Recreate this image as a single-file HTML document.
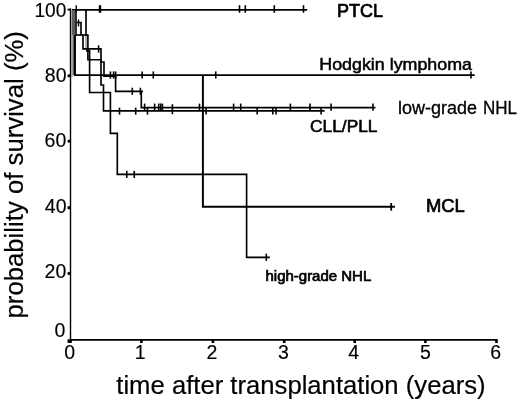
<!DOCTYPE html>
<html><head><meta charset="utf-8"><style>
html,body{margin:0;padding:0;background:#fff;width:520px;height:401px;overflow:hidden}
svg{display:block}
text{font-family:"Liberation Sans",Arial,sans-serif;fill:#000}
.tk{font-size:19.5px}
.ttl{font-size:26px}
.sm{stroke:#000;stroke-width:0.75px}
.lg{stroke:#000;stroke-width:0.7}
.tk{stroke:#000;stroke-width:0.15px}
.ttl{stroke:#000;stroke-width:0.2px}
</style></head><body>
<svg width="520" height="401" viewBox="0 0 520 401">
<g fill="none" stroke="#000" stroke-linecap="butt">
<path d="M70.5,8.5 L70.5,340.5" stroke-width="1.4"/>
<path d="M70,339.8 H497.5" stroke-width="1.7"/>
<path d="M69.6,339.7 V343" stroke-width="2.6"/>
<path d="M141.4,339.7 V343" stroke-width="2.6"/>
<path d="M212.9,339.7 V343" stroke-width="2.6"/>
<path d="M284.2,339.7 V343" stroke-width="2.6"/>
<path d="M354.7,339.7 V343" stroke-width="2.6"/>
<path d="M425.4,339.7 V343" stroke-width="2.6"/>
<path d="M496.5,339.7 V343" stroke-width="2.6"/>
<path d="M67.6,9.6 H71" stroke-width="1.9"/>
<path d="M67.6,75.8 H71" stroke-width="2.7"/>
<path d="M67.6,141.2 H71" stroke-width="2.8"/>
<path d="M67.6,207.7 H71" stroke-width="3.0"/>
<path d="M67.6,273.5 H71" stroke-width="2.8"/>
<rect x="67.5" y="339.4" width="4.4" height="3.4" fill="#000" stroke="none"/>
<path d="M72,9.8 H307.2" stroke-width="1.8"/>
<rect x="71.1" y="10" width="0.7" height="25" fill="#aaa" stroke="none"/>
<rect x="71.8" y="10" width="3.5" height="25" fill="#5e5e5e" stroke="none"/>
<rect x="71.1" y="35" width="1.6" height="42" fill="#a0a0a0" stroke="none"/>
<rect x="72.7" y="35" width="1.3" height="40" fill="#6a6a6a" stroke="none"/>
<path d="M74.9,35 V75.9" stroke-width="2.1"/>
<path d="M74,75 H474.7" stroke-width="1.75"/>
<path d="M76.0,10 V35.8" stroke-width="1.6"/>
<path d="M202.9,75 V206.8 H394.9" stroke-width="1.95"/>
<path d="M76.5,22.5 H81 V35" stroke-width="1.65"/>
<path d="M86,10 V35" stroke-width="1.65"/>
<path d="M86,35 V50" stroke="#888" stroke-width="1.3"/>
<path d="M76,35 H88.5" stroke-width="1.65"/>
<path d="M83,35 V48.8 H101 V85 H103.5 V110.8 H324.6" stroke-width="1.65"/>
<path d="M87.9,35 V59.7 H101 V62 H104 V76.2 H115.6" stroke-width="1.65"/>
<path d="M86,50.8 H89.6 V92.5 H110.4 V133.3 H117.3 V174.4 H246.6 V257.3 H269.8" stroke-width="1.65"/>
<path d="M115.6,75 V91.3 H143 M141.3,91.3 V107.6 H375.5" stroke-width="1.65"/>
<path d="M76.3,5.2 V12.8" stroke-width="1.4"/>
<path d="M100,5.2 V12.8" stroke-width="2.4"/>
<path d="M239.5,5.2 V12.8" stroke-width="1.6"/>
<path d="M245.3,5.2 V12.8" stroke-width="1.6"/>
<path d="M274.3,5.2 V12.8" stroke-width="1.6"/>
<path d="M303.5,5.2 V12.8" stroke-width="1.6"/>
<path d="M110.4,71.4 V78.6" stroke-width="1.6"/>
<path d="M113.6,71.4 V78.6" stroke-width="1.6"/>
<path d="M115.6,71.4 V78.6" stroke-width="1.6"/>
<path d="M142.2,71.4 V78.6" stroke-width="1.6"/>
<path d="M153.3,71.4 V78.6" stroke-width="1.6"/>
<path d="M215.75,71.4 V78.6" stroke-width="1.6"/>
<path d="M471,71.4 V78.6" stroke-width="1.6"/>
<path d="M391.2,203.0 V210.6" stroke-width="1.8"/>
<path d="M78.5,19.5 V26.5" stroke-width="1.4"/>
<path d="M98.6,45.4 V52.6" stroke-width="1.6"/>
<path d="M126.75,170.8 V178.0" stroke-width="1.6"/>
<path d="M134.25,170.8 V178.0" stroke-width="1.6"/>
<path d="M266.3,253.7 V260.9" stroke-width="1.6"/>
<path d="M132.3,87.7 V94.9" stroke-width="1.6"/>
<path d="M140.4,87.7 V94.9" stroke-width="1.6"/>
<path d="M144.6,103.6 V110.8" stroke-width="1.6"/>
<path d="M154.6,103.6 V110.8" stroke-width="1.6"/>
<path d="M158.8,103.6 V110.8" stroke-width="1.6"/>
<path d="M160.8,103.6 V110.8" stroke-width="1.6"/>
<path d="M162.4,103.6 V110.8" stroke-width="1.6"/>
<path d="M199.5,103.6 V110.8" stroke-width="1.6"/>
<path d="M233.6,103.6 V110.8" stroke-width="1.6"/>
<path d="M240.7,103.6 V110.8" stroke-width="1.6"/>
<path d="M290.4,103.6 V110.8" stroke-width="1.6"/>
<path d="M310,103.6 V110.8" stroke-width="1.6"/>
<path d="M331.1,103.6 V110.8" stroke-width="1.6"/>
<path d="M373,103.6 V110.8" stroke-width="1.6"/>
<path d="M172.4,104.2 V114.2" stroke-width="1.6"/>
<path d="M119.5,107.6 V114.6" stroke-width="1.6"/>
<path d="M135.7,107.6 V114.6" stroke-width="1.6"/>
<path d="M147.5,107.6 V114.6" stroke-width="1.6"/>
<path d="M206.1,107.6 V114.6" stroke-width="1.6"/>
<path d="M257.2,107.6 V114.6" stroke-width="1.6"/>
<path d="M272.8,107.6 V114.6" stroke-width="1.6"/>
<path d="M276,107.6 V114.6" stroke-width="1.6"/>
<path d="M321.1,107.6 V114.6" stroke-width="1.6"/>
</g>
<text x="66.3" y="16.5" text-anchor="end" class="tk" textLength="31.9" lengthAdjust="spacingAndGlyphs">100</text>
<text x="66.5" y="81.5" text-anchor="end" class="tk">80</text>
<text x="66.3" y="146.7" text-anchor="end" class="tk">60</text>
<text x="66.5" y="212.7" text-anchor="end" class="tk">40</text>
<text x="66.3" y="277.9" text-anchor="end" class="tk">20</text>
<text x="65.3" y="336.9" text-anchor="end" class="tk">0</text>
<text x="69.7" y="359.3" text-anchor="middle" class="tk">0</text>
<text x="140.2" y="359.3" text-anchor="middle" class="tk">1</text>
<text x="211.9" y="359.3" text-anchor="middle" class="tk">2</text>
<text x="283.4" y="359.3" text-anchor="middle" class="tk">3</text>
<text x="353.7" y="359.3" text-anchor="middle" class="tk">4</text>
<text x="425.5" y="359.3" text-anchor="middle" class="tk">5</text>
<text x="495.8" y="359.3" text-anchor="middle" class="tk">6</text>
<text x="116.3" y="393.7" class="ttl" textLength="369.3" lengthAdjust="spacingAndGlyphs">time after transplantation (years)</text>
<text transform="translate(23.1,318.5) rotate(-90)" x="0" y="0" class="ttl" textLength="287.4" lengthAdjust="spacingAndGlyphs">probability of survival (%)</text>
<text x="337" y="16.6" class="lg" font-size="18" style="stroke-width:0.7">PTCL</text>
<text x="319.3" y="69.8" class="lg" font-size="17" style="stroke-width:0.5" textLength="152.7" lengthAdjust="spacingAndGlyphs">Hodgkin lymphoma</text>
<text x="398" y="114.3" class="lg" font-size="17.5" style="stroke-width:0.3" textLength="79" lengthAdjust="spacingAndGlyphs">low-grade</text><text x="483" y="114.3" class="lg" font-size="17.5" style="stroke-width:0.3" textLength="34" lengthAdjust="spacingAndGlyphs">NHL</text>
<text x="310" y="131.6" class="lg" font-size="17" style="stroke-width:0.6" textLength="67.5" lengthAdjust="spacingAndGlyphs">CLL/PLL</text>
<text x="426" y="211.9" class="lg" font-size="18.4">MCL</text>
<text x="265.5" y="280.7" class="lg sm" font-size="14.5" textLength="105.75" lengthAdjust="spacingAndGlyphs">high-grade NHL</text>
</svg>
</body></html>
